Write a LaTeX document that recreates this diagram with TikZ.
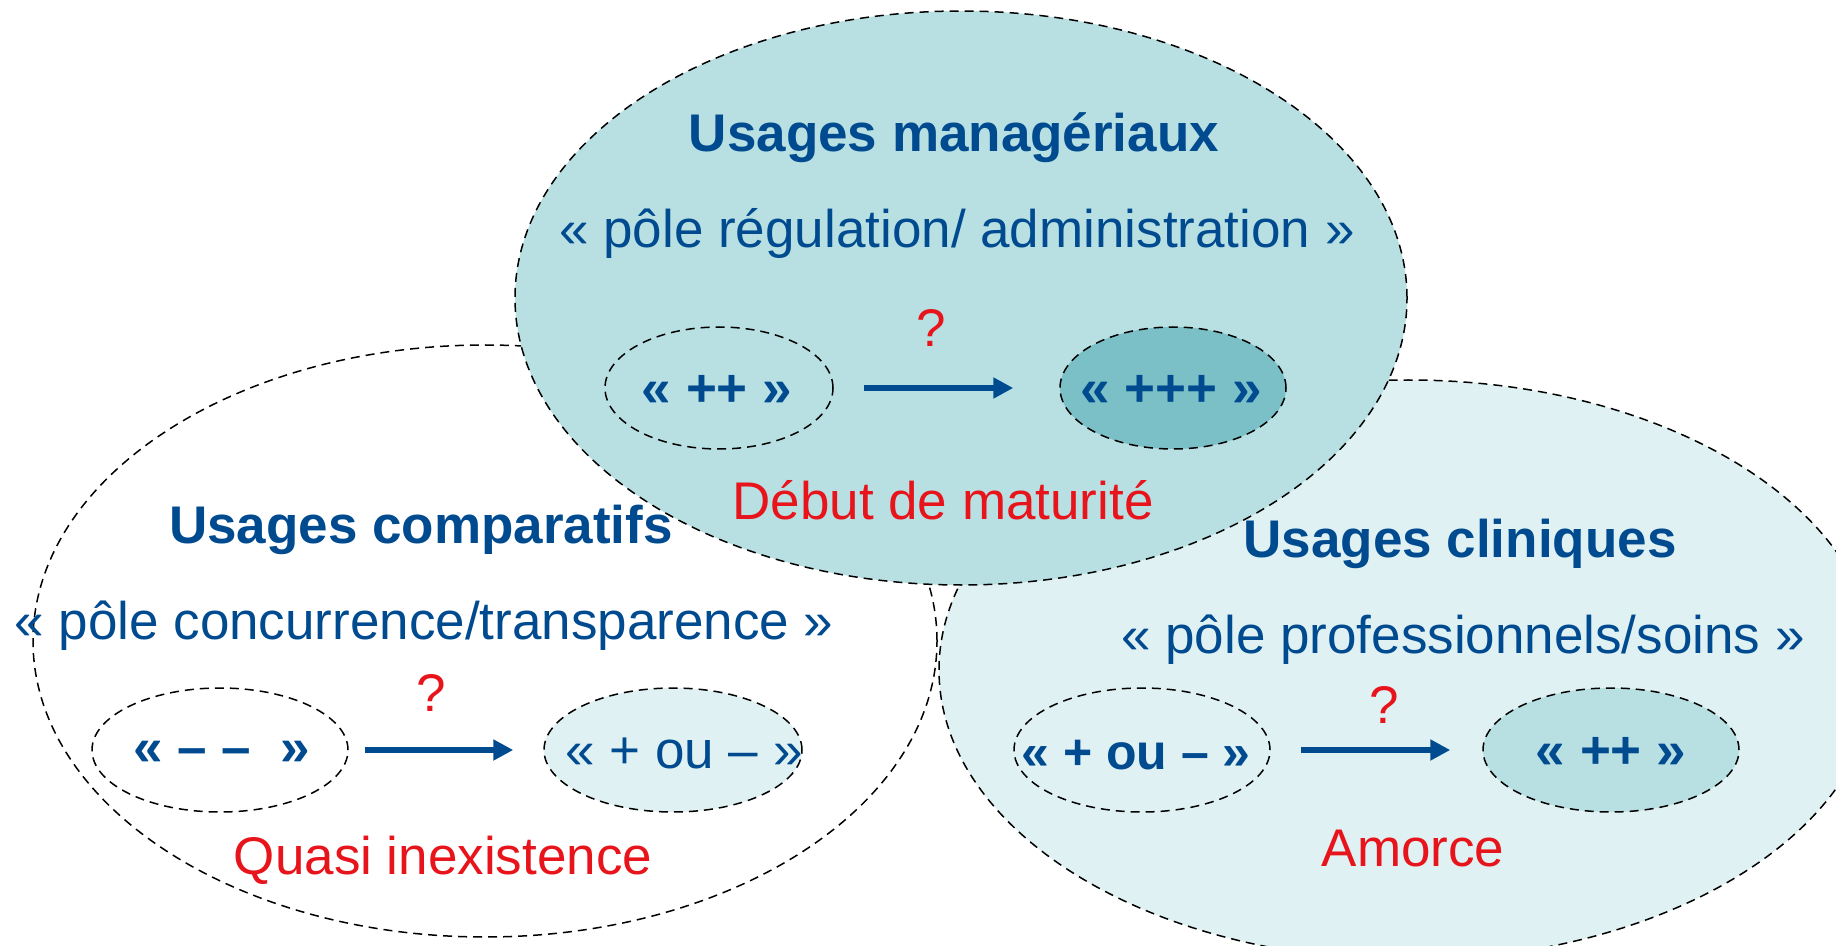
\documentclass[tikz,border=0pt]{standalone}
\usepackage{fontspec}
\setmainfont{Liberation Sans}
\usetikzlibrary{shapes.geometric,arrows.meta}
\definecolor{txtblue}{RGB}{0,74,143}
\definecolor{txtred}{RGB}{232,20,28}
\definecolor{fillmid}{RGB}{184,224,227}
\definecolor{filllight}{RGB}{223,241,242}
\definecolor{filldark}{RGB}{122,192,198}
\tikzset{
  dashline/.style={draw=black,line width=0.75pt,dash pattern=on 4.5pt off 3pt},
  bigell/.style={ellipse,dashline,inner sep=0pt},
  smallell/.style={ellipse,dashline,inner sep=0pt,minimum width=128pt,minimum height=62pt},
  valtxt/.style={font=\fontsize{26.5pt}{30pt}\selectfont\bfseries,text=txtblue},
  title/.style={font=\fontsize{26.5pt}{30pt}\selectfont\bfseries,text=txtblue},
  pole/.style={font=\fontsize{26.5pt}{30pt}\selectfont,text=txtblue},
  redtxt/.style={font=\fontsize{26.5pt}{30pt}\selectfont,text=txtred},
  flow/.style={draw=txtblue,line width=2.6pt,-{Triangle[length=10pt,width=10pt]}}
}
\begin{document}
\begin{tikzpicture}[x=0.5pt,y=-0.5pt]
\clip (0,0) rectangle (1836,946);
% big ellipses
\node[bigell,minimum width=452pt,minimum height=296pt] (comp) at (485,641) {};
\node[bigell,fill=filllight,minimum width=469pt,minimum height=290pt] (clin) at (1408,670) {};
\node[bigell,fill=fillmid,minimum width=446pt,minimum height=287pt] (mana) at (961,298) {};
% managerial
\node[title] (tmana) at (954,138) {Usages managériaux};
\node[pole] (pmana) at (957,233) {«~pôle régulation/ administration~»};
\node[smallell,minimum width=114pt,minimum height=61pt] (m1) at (719,388) {};
\node[smallell,fill=filldark,minimum width=113pt,minimum height=61pt] (m2) at (1173,388) {};
\node[valtxt] (vm1) at (717,391) {«~++~»};
\node[valtxt] (vm2) at (1171,391) {«~+++~»};
\draw[flow,shorten <=15pt,shorten >=23pt] (m1) -- (m2);
\node[redtxt] (qm) at (931,328) {?};
\node[redtxt] (rm) at (943,500) {Début de maturité};
% comparatifs
\node[smallell] (c1) at (220,750) {};
\node[smallell,fill=filllight,minimum width=129pt] (c2) at (673,750) {};
\node[valtxt] (vc1) at (222,753) {«~– –~~»};
\node[pole] (vc2) at (684,753) {«~+ ou –~»};
\draw[flow,shorten <=8pt,shorten >=15pt] (c1) -- (c2);
\node[redtxt] (qc) at (431,693) {?};
\node[redtxt] (rc) at (443,860) {Quasi inexistence};
\node[title] (tcomp) at (421,530) {Usages comparatifs};
\node[pole] (pcomp) at (424,626) {«~pôle concurrence/transparence~»};
% cliniques
\node[title] (tclin) at (1460,544) {Usages cliniques};
\node[pole] (pclin) at (1463,640) {«~pôle professionnels/soins~»};
\node[smallell] (k1) at (1142,750) {};
\node[smallell,fill=fillmid] (k2) at (1611,750) {};
\node[valtxt,font=\fontsize{25pt}{30pt}\selectfont\bfseries] (vk1) at (1136,755) {«~+ ou –~»};
\node[valtxt] (vk2) at (1611,753) {«~++~»};
\draw[flow,shorten <=15pt,shorten >=16pt] (k1) -- (k2);
\node[redtxt] (qk) at (1384,705) {?};
\node[redtxt] (rk) at (1413,849) {Amorce};
\end{tikzpicture}
\end{document}
